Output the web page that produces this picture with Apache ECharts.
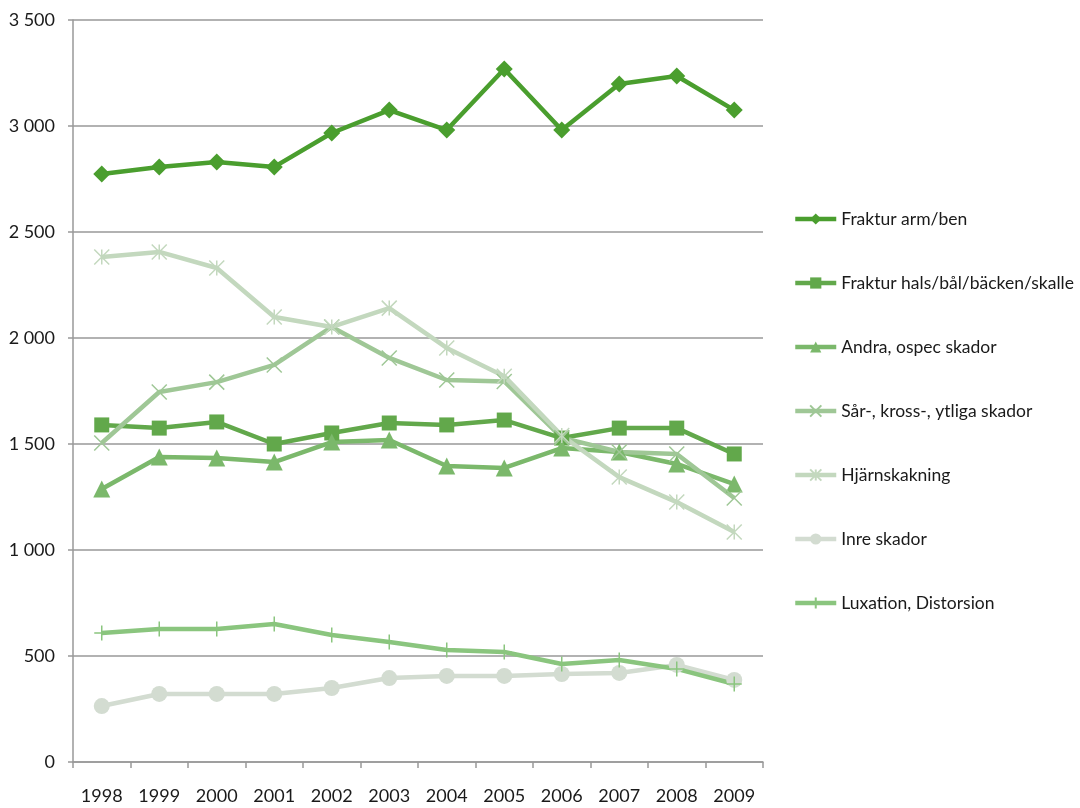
<!DOCTYPE html>
<html>
<head>
<meta charset="utf-8">
<script src="https://cdn.jsdelivr.net/npm/echarts@6/dist/echarts.min.js"></script>
<style>
html,body{margin:0;padding:0;background:#fff;}
#chart{width:1080px;height:808px;}
</style>
</head>
<body>
<div id="chart"></div>
<script>
const years = ['1998','1999','2000','2001','2002','2003','2004','2005','2006','2007','2008','2009'];
const seriesNames = ['Fraktur arm/ben','Fraktur hals/bål/bäcken/skalle','Andra, ospec skador','Sår-, kross-, ytliga skador','Hjärnskakning','Inre skador','Luxation, Distorsion'];
const frakturArmBen = [2774,2807,2830,2807,2967,3075,2981,3269,2981,3198,3236,3075];
const frakturHals = [1590,1575,1604,1500,1552,1599,1590,1613,1528,1575,1575,1453];
const andraOspec = [1288,1439,1434,1415,1509,1519,1396,1387,1481,1462,1406,1311];
const sarKross = [1505,1745,1792,1873,2052,1906,1802,1795,1530,1462,1453,1245];
const hjarnskakning = [2382,2406,2330,2099,2052,2141,1953,1820,1540,1344,1226,1085];
const inreSkador = [264,321,321,321,349,396,406,406,415,420,458,387];
const luxation = [608,627,627,651,599,566,528,519,462,481,439,368];

const colors = ['#4a9e2e','#62a84b','#7bb86b','#9fc796','#c3d8be','#d3dcd1','#8ac57e'];
const fontFam = 'Lato';

function mk(name, data, color, symbol, size, strokeMarker) {
  return {
    name: name, type: 'line', data: data,
    symbol: symbol, symbolSize: size,
    lineStyle: {color: color, width: 4.5},
    itemStyle: strokeMarker ? {color: color, borderColor: color, borderWidth: 1.5} : {color: color},
    animation: false
  };
}

const chart = echarts.init(document.getElementById('chart'));
chart.setOption({
  backgroundColor: '#fff',
  animation: false,
  grid: {left: 73, right: 317, top: 20, bottom: 46},
  legend: {
    orient: 'vertical', left: 793, top: 210, padding: 0,
    itemWidth: 41, itemHeight: 14, itemGap: 46,
    lineStyle: {width: 4.5},
    textStyle: {fontFamily: fontFam, fontSize: 17.5, color: '#1a1a1a'}
  },
  xAxis: {
    type: 'category', data: years, boundaryGap: true,
    axisLine: {lineStyle: {color: '#999', width: 1.5}},
    axisTick: {show: true, length: 6, lineStyle: {color: '#999', width: 1.5}},
    axisLabel: {fontFamily: fontFam, fontSize: 18, color: '#1a1a1a', margin: 25}
  },
  yAxis: {
    type: 'value', min: 0, max: 3500, interval: 500,
    axisLine: {show: true, lineStyle: {color: '#999', width: 1.5}},
    axisTick: {show: true, length: 5, lineStyle: {color: '#999', width: 1.5}},
    splitLine: {lineStyle: {color: '#999', width: 1.5}},
    axisLabel: {
      fontFamily: fontFam, fontSize: 18, color: '#1a1a1a', margin: 18,
      formatter: function (v) { return String(v).replace(/\B(?=(\d{3})+(?!\d))/g, ' '); }
    }
  },
  series: [
    mk(seriesNames[0], frakturArmBen, colors[0], 'diamond', 17, false),
    mk(seriesNames[1], frakturHals, colors[1], 'rect', 15, false),
    mk(seriesNames[2], andraOspec, colors[2], 'triangle', 17, false),
    mk(seriesNames[3], sarKross, colors[3], 'path://M0,0L10,10M10,0L0,10', 15, true),
    mk(seriesNames[4], hjarnskakning, colors[4], 'path://M0,0L10,10M10,0L0,10M5,0L5,10', 15, true),
    mk(seriesNames[5], inreSkador, colors[5], 'circle', 16, false),
    mk(seriesNames[6], luxation, colors[6], 'path://M0,5L10,5M5,0L5,10', 15, true)
  ]
});
</script>
</body>
</html>
